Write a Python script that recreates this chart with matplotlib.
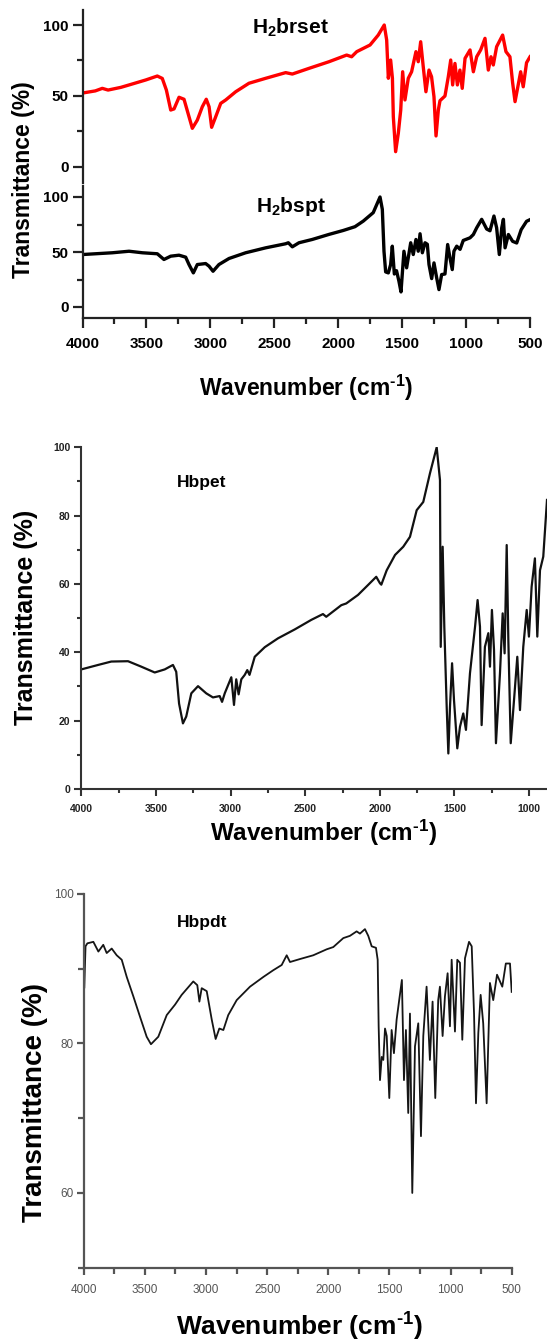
"""
FT-IR spectra of the four ligands (H2brset, H2bspt, Hbpet, Hbpdt), stacked as in the paper figure.
Values read off the published spectra by eye.
"""

import matplotlib
matplotlib.use("Agg")
import matplotlib.pyplot as plt
from matplotlib.ticker import MultipleLocator

plt.rcParams.update({
    "font.family": "Liberation Sans",
    "mathtext.fontset": "custom",
    "mathtext.rm": "Liberation Sans",
    "mathtext.bf": "Liberation Sans:bold",
    "mathtext.default": "bf",
})

W, H = 547, 1342
XLABEL = "Wavenumber (cm$^{\u2010 1}$)"

# ── H2brset (red, top) ──────────────────────────────────────────────────────
brset_wn = [4000, 3900, 3845, 3800, 3700, 3636, 3506, 3415, 3376, 3344, 3310, 3284,
            3245, 3206, 3167, 3141, 3102, 3063, 3032, 3010, 2990, 2958, 2919, 2880,
            2802, 2698, 2567, 2411, 2359, 2229, 2072, 1934, 1895, 1855, 1751, 1687,
            1640, 1621, 1608, 1590, 1576, 1569, 1551, 1530, 1511, 1496, 1478, 1452,
            1426, 1392, 1374, 1355, 1335, 1314, 1290, 1270, 1251, 1235, 1217, 1204,
            1165, 1139, 1120, 1105, 1087, 1068, 1048, 1030, 1008, 969, 943, 917,
            886, 852, 826, 805, 787, 761, 714, 688, 657, 636, 617, 573, 553, 527, 500]
brset_t = [52.0, 53.5, 55.3, 54.1, 56.0, 57.7, 61.2, 64.0, 62.3, 54.1, 40.0, 40.8,
           49.0, 47.6, 35.3, 27.1, 32.9, 42.3, 47.6, 42.3, 27.8, 35.3, 44.7, 47.1,
           52.9, 58.9, 62.4, 66.4, 65.4, 69.4, 74.1, 78.8, 77.6, 81.2, 85.9, 92.9,
           100.0, 89.4, 62.4, 75.3, 62.4, 35.3, 10.6, 23.6, 40.0, 67.0, 47.1, 62.4,
           67.0, 81.2, 74.1, 88.2, 70.6, 52.9, 68.2, 63.5, 49.4, 21.7, 40.0, 46.6,
           49.9, 63.5, 75.3, 57.7, 72.9, 57.7, 68.2, 55.3, 76.5, 82.4, 67.0, 77.6,
           82.4, 90.6, 68.2, 77.6, 71.8, 84.7, 92.9, 81.2, 77.6, 59.3, 45.9, 67.0,
           56.4, 73.4, 77.6]

# ── H2bspt (black, second) ──────────────────────────────────────────────────
bspt_wn = [4000, 3767, 3636, 3532, 3415, 3363, 3310, 3245, 3193, 3167, 3133, 3102,
           3037, 3010, 2979, 2933, 2854, 2724, 2567, 2411, 2390, 2359, 2307, 2203,
           2072, 1960, 1869, 1804, 1726, 1673, 1655, 1642, 1629, 1608, 1590, 1577,
           1561, 1544, 1525, 1509, 1486, 1465, 1433, 1413, 1392, 1374, 1360, 1342,
           1321, 1303, 1290, 1269, 1251, 1230, 1212, 1191, 1165, 1144, 1126, 1108,
           1095, 1073, 1047, 1022, 969, 943, 917, 878, 839, 813, 782, 761, 740,
           721, 708, 695, 669, 636, 604, 569, 527, 500]
bspt_t = [47.7, 49.3, 50.7, 49.3, 48.4, 43.2, 46.2, 47.1, 45.3, 38.6, 31.0, 38.6,
          39.5, 37.1, 32.5, 38.6, 44.1, 49.3, 53.8, 57.5, 58.4, 54.7, 58.4, 61.4,
          66.0, 69.6, 73.0, 78.1, 85.8, 100.0, 88.8, 50.7, 31.9, 31.0, 38.6, 55.3,
          30.0, 33.0, 23.4, 13.7, 50.7, 35.6, 58.4, 47.7, 61.4, 50.7, 66.6, 49.3,
          58.4, 57.0, 38.6, 25.8, 40.1, 26.5, 15.8, 29.5, 30.0, 56.8, 44.7, 34.0,
          50.7, 55.3, 52.4, 60.5, 62.9, 65.9, 72.0, 79.7, 70.9, 69.3, 82.7, 72.0,
          47.7, 72.0, 79.7, 53.8, 65.9, 59.7, 58.2, 70.3, 77.9, 79.4]

# ── Hbpet (middle panel) ────────────────────────────────────────────────────
bpet_wn = [4000, 3888, 3799, 3687, 3598, 3508, 3441, 3386, 3364, 3345, 3319, 3297,
           3263, 3218, 3163, 3118, 3073, 3057, 3039, 2995, 2977, 2962, 2946, 2928,
           2905, 2888, 2873, 2838, 2771, 2682, 2570, 2459, 2381, 2359, 2258, 2225,
           2146, 2079, 2024, 1999, 1990, 1954, 1898, 1843, 1798, 1753, 1709, 1664,
           1619, 1597, 1592, 1579, 1568, 1552, 1541, 1530, 1516, 1503, 1481, 1463,
           1441, 1423, 1396, 1362, 1345, 1329, 1318, 1296, 1273, 1262, 1249, 1235,
           1222, 1195, 1177, 1164, 1150, 1139, 1123, 1101, 1079, 1061, 1039, 1016,
           1001, 983, 961, 945, 927, 905, 880]
bpet_t = [35.0, 36.3, 37.3, 37.4, 35.8, 34.1, 35.0, 36.3, 34.3, 25.0, 19.2, 21.2,
          28.0, 30.1, 28.0, 26.8, 27.2, 25.5, 28.0, 32.7, 24.6, 32.1, 27.7, 32.1,
          33.4, 34.8, 33.4, 38.7, 41.5, 44.1, 46.7, 49.5, 51.2, 50.4, 53.8, 54.3,
          56.8, 59.7, 62.1, 60.2, 59.8, 64.0, 68.5, 70.9, 73.8, 81.6, 84.0, 92.4,
          100.0, 90.4, 41.6, 70.9, 47.5, 24.0, 10.4, 24.0, 36.8, 26.0, 11.9, 18.2,
          22.1, 17.3, 33.9, 47.5, 55.3, 47.5, 18.7, 41.6, 45.6, 35.8, 52.4, 40.7,
          13.4, 33.9, 51.4, 39.7, 71.4, 43.6, 13.4, 26.0, 38.7, 23.1, 41.6, 52.4,
          44.6, 59.2, 67.5, 44.6, 64.0, 68.0, 84.6]

# ── Hbpdt (bottom panel) ────────────────────────────────────────────────────
bpdt_wn = [3995, 3991, 3985, 3970, 3921, 3880, 3840, 3812, 3771, 3730, 3689, 3648,
           3594, 3540, 3485, 3450, 3390, 3321, 3253, 3199, 3104, 3071, 3054, 3035,
           2994, 2953, 2921, 2891, 2858, 2818, 2749, 2640, 2531, 2450, 2381, 2340,
           2313, 2231, 2123, 2013, 1959, 1877, 1823, 1768, 1741, 1700, 1673, 1645,
           1610, 1596, 1588, 1577, 1563, 1550, 1536, 1522, 1501, 1482, 1463, 1441,
           1420, 1398, 1381, 1365, 1346, 1332, 1313, 1291, 1264, 1242, 1223, 1196,
           1169, 1147, 1125, 1101, 1087, 1065, 1046, 1024, 1005, 991, 964, 945,
           923, 904, 882, 849, 827, 808, 792, 773, 754, 733, 705, 678, 651, 620,
           577, 548, 514, 500]
bpdt_t = [87.5, 89.8, 93.0, 93.4, 93.6, 92.3, 93.2, 92.1, 92.7, 91.8, 91.2, 88.9,
          86.3, 83.6, 80.9, 79.9, 80.9, 83.8, 85.2, 86.5, 88.3, 87.8, 85.6, 87.4,
          87.0, 83.2, 80.6, 82.0, 81.8, 83.8, 85.8, 87.6, 88.9, 89.8, 90.5, 91.8,
          90.9, 91.3, 91.8, 92.6, 92.9, 94.1, 94.4, 95.0, 94.7, 95.3, 94.4, 93.0,
          92.8, 91.2, 82.3, 75.1, 78.2, 77.8, 82.0, 81.0, 72.7, 81.8, 78.7, 83.2,
          85.8, 88.5, 75.1, 81.8, 70.7, 84.0, 60.0, 79.6, 82.7, 67.6, 81.0, 87.6,
          77.8, 85.6, 72.7, 85.8, 87.6, 81.0, 86.3, 89.4, 82.3, 91.2, 81.6, 91.2,
          90.8, 80.5, 91.4, 93.6, 93.0, 84.0, 72.0, 81.4, 86.5, 82.7, 72.0, 88.1,
          85.8, 89.2, 87.6, 90.7, 90.7, 86.9]


def add_axes(fig, left, top, right, bottom):
    """Axes from pixel box (left, top, right, bottom) of the W x H canvas."""
    return fig.add_axes([left / W, 1 - bottom / H, (right - left) / W, (bottom - top) / H])


def style(ax, spine_lw, color):
    for s in ("top", "right"):
        ax.spines[s].set_visible(False)
    for s in ("left", "bottom"):
        ax.spines[s].set_linewidth(spine_lw)
        ax.spines[s].set_color(color)
    ax.tick_params(which="both", direction="out", color=color, width=spine_lw)


def main():
    fig = plt.figure(figsize=(W / 100, H / 100), dpi=100)

    # ── top figure: two spectra sharing a wavenumber axis ──────────────────
    big = dict(fontsize=16.5, fontweight="bold", ha="center", va="center")
    ax_r = add_axes(fig, 82.5, 10, 530, 183)
    ax_k = add_axes(fig, 82.5, 186, 530, 318)
    ax_r.plot(brset_wn, brset_t, color="#ff0000", lw=2.4)
    ax_k.plot(bspt_wn, bspt_t, color="black", lw=2.4)
    ax_r.set_ylim(-11.5, 110.6)
    ax_k.set_ylim(-10, 110)
    for ax in (ax_r, ax_k):
        ax.set_xlim(4000, 500)
        style(ax, 1.6, "#222222")
        ax.yaxis.set_major_locator(MultipleLocator(50))
        ax.yaxis.set_minor_locator(MultipleLocator(25))
        ax.tick_params(axis="y", which="major", length=7, pad=3, labelsize=11)
        ax.tick_params(axis="y", which="minor", length=4)
        for lab in ax.get_yticklabels():
            lab.set_fontweight("bold")
    ax_r.spines["bottom"].set_visible(False)
    ax_r.tick_params(axis="x", which="both", bottom=False, labelbottom=False)
    ax_k.xaxis.set_major_locator(MultipleLocator(500))
    ax_k.xaxis.set_minor_locator(MultipleLocator(250))
    ax_k.tick_params(axis="x", which="major", length=7, pad=7, labelsize=11)
    ax_k.tick_params(axis="x", which="minor", length=4)
    for lab in ax_k.get_xticklabels():
        lab.set_fontweight("bold")
    fig.text(290 / W, 1 - 28 / H, r"H$_2$brset", fontsize=15, fontweight="bold",
             ha="center", va="center")
    fig.text(291 / W, 1 - 207 / H, r"H$_2$bspt", fontsize=15, fontweight="bold",
             ha="center", va="center")
    fig.text(24 / W, 1 - 180 / H, "Transmittance (%)", rotation=90, **big)
    fig.text(306 / W, 1 - 388 / H, XLABEL, **big)

    # ── middle figure: Hbpet ──────────────────────────────────────────────
    ax_m = add_axes(fig, 81.3, 447.3, 547, 789)
    ax_m.plot(bpet_wn, bpet_t, color="#111111", lw=1.6)
    ax_m.set_xlim(4000, 880)
    ax_m.set_ylim(0, 100)
    style(ax_m, 1.5, "#333333")
    ax_m.xaxis.set_major_locator(MultipleLocator(500))
    ax_m.xaxis.set_minor_locator(MultipleLocator(250))
    ax_m.yaxis.set_major_locator(MultipleLocator(20))
    ax_m.yaxis.set_minor_locator(MultipleLocator(10))
    ax_m.tick_params(which="major", length=5, labelsize=7.5, labelcolor="#222222")
    ax_m.tick_params(which="minor", length=3)
    ax_m.tick_params(axis="x", pad=6)
    ax_m.tick_params(axis="y", pad=3)
    for lab in ax_m.get_xticklabels() + ax_m.get_yticklabels():
        lab.set_fontweight("bold")
    fig.text(202 / W, 1 - 482 / H, "Hbpet", fontsize=12.5, fontweight="bold",
             ha="center", va="center")
    fig.text(26 / W, 1 - 617 / H, "Transmittance (%)", rotation=90,
             **{**big, "fontsize": 18})
    fig.text(323 / W, 1 - 833 / H, XLABEL, **{**big, "fontsize": 17.5})

    # ── bottom figure: Hbpdt ──────────────────────────────────────────────
    ax_b = add_axes(fig, 83.7, 894, 511.7, 1267.7)
    ax_b.plot(bpdt_wn, bpdt_t, color="#151515", lw=1.3)
    ax_b.set_xlim(4000, 500)
    ax_b.set_ylim(50, 100)
    style(ax_b, 1.6, "#555555")
    ax_b.xaxis.set_major_locator(MultipleLocator(500))
    ax_b.xaxis.set_minor_locator(MultipleLocator(250))
    ax_b.yaxis.set_major_locator(MultipleLocator(20))
    ax_b.yaxis.set_minor_locator(MultipleLocator(10))
    ax_b.tick_params(which="major", length=5, labelsize=8.5, labelcolor="#555555")
    ax_b.tick_params(which="minor", length=4)
    ax_b.tick_params(axis="x", pad=7)
    ax_b.tick_params(axis="y", pad=2)
    fig.text(202 / W, 1 - 922 / H, "Hbpdt", fontsize=12.5, fontweight="bold",
             ha="center", va="center")
    fig.text(35 / W, 1 - 1103 / H, "Transmittance (%)", rotation=90,
             **{**big, "fontsize": 20})
    fig.text(299 / W, 1 - 1327 / H, XLABEL, **{**big, "fontsize": 19})

    fig.savefig("out.png", dpi=100)
    plt.close(fig)


if __name__ == "__main__":
    main()
